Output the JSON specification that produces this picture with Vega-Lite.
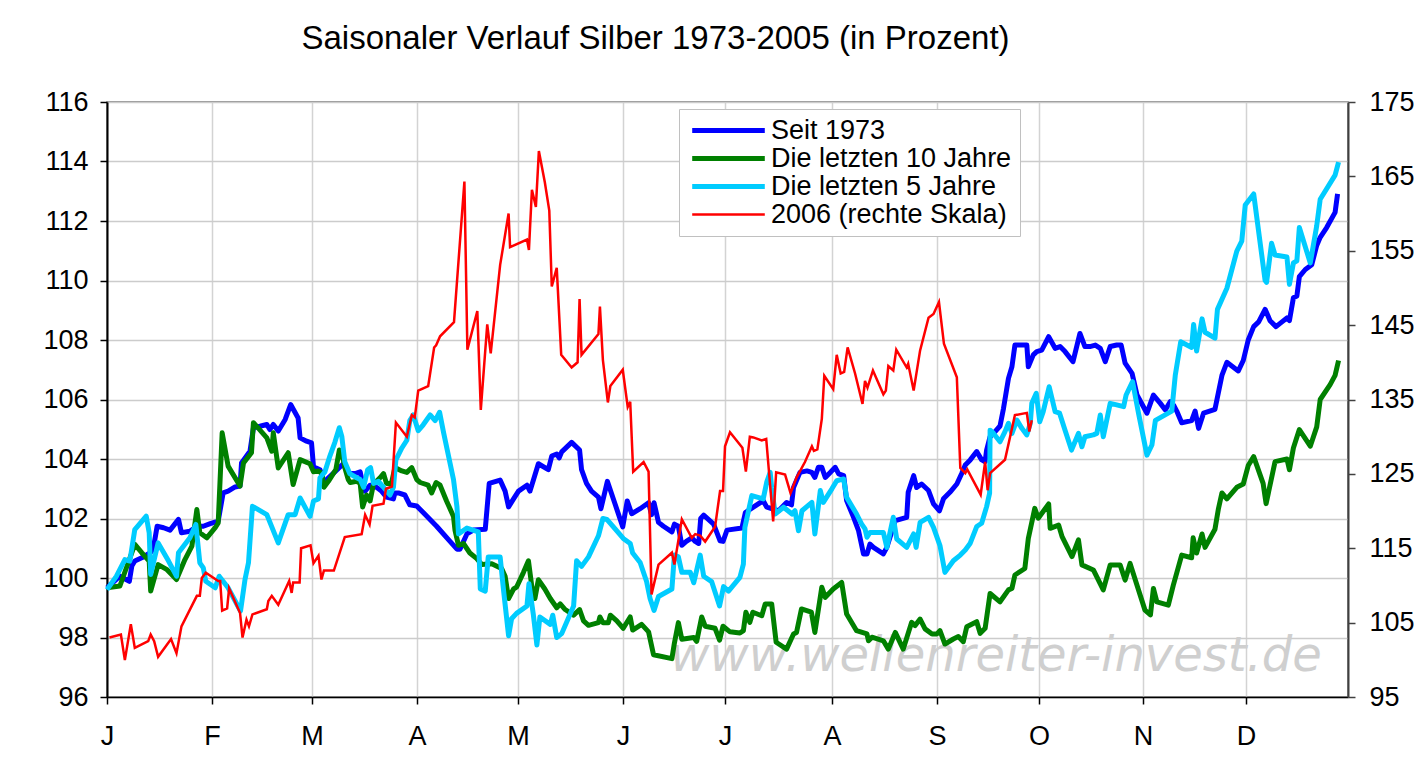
{
"$schema": "https://vega.github.io/schema/vega-lite/v6.json",
"width": 1241, "height": 595,
"autosize": {"type": "none"},
"padding": {"left": 107, "top": 102, "right": 71, "bottom": 65},
"background": "white",
"config": {"font": "Liberation Sans", "view": {"stroke": "#707070", "strokeWidth": 1.5}},
"title": {"text": "Saisonaler Verlauf Silber 1973-2005 (in Prozent)", "font": "Liberation Sans", "fontSize": 33, "fontWeight": "normal", "color": "black", "anchor": "middle", "frame": "group", "dx": -72, "baseline": "alphabetic", "offset": 6},
"datasets": {
"blue": [{"d":0,"v":99.67},{"d":2.6,"v":100.06},{"d":4.5,"v":99.89},{"d":5.0,"v":100.4},{"d":5.6,"v":100.57},{"d":7.0,"v":100.68},{"d":8.7,"v":100.85},{"d":9.3,"v":100.96},{"d":10.1,"v":101.74},{"d":11.4,"v":101.69},{"d":12.7,"v":101.61},{"d":14.4,"v":101.97},{"d":15.0,"v":101.52},{"d":16.7,"v":101.57},{"d":18.1,"v":101.74},{"d":19.4,"v":101.74},{"d":20.8,"v":101.83},{"d":22.4,"v":101.91},{"d":23.4,"v":102.86},{"d":24.4,"v":102.92},{"d":25.8,"v":103.06},{"d":26.8,"v":103.09},{"d":27.1,"v":103.87},{"d":28.8,"v":104.26},{"d":29.5,"v":105.05},{"d":30.8,"v":105.1},{"d":32.2,"v":105.16},{"d":32.8,"v":104.99},{"d":33.5,"v":105.16},{"d":34.5,"v":104.94},{"d":35.9,"v":105.33},{"d":37.0,"v":105.83},{"d":38.5,"v":105.38},{"d":38.9,"v":104.71},{"d":40.2,"v":104.6},{"d":41.2,"v":104.54},{"d":41.6,"v":103.74},{"d":42.9,"v":103.64},{"d":43.9,"v":103.18},{"d":44.6,"v":103.37},{"d":45.9,"v":103.57},{"d":47.6,"v":103.84},{"d":48.6,"v":103.51},{"d":50.0,"v":103.51},{"d":51.0,"v":103.57},{"d":51.5,"v":103.18},{"d":52.0,"v":102.92},{"d":53.0,"v":103.12},{"d":54.3,"v":103.05},{"d":55.3,"v":102.92},{"d":56.3,"v":102.72},{"d":57.7,"v":102.66},{"d":58.0,"v":102.86},{"d":58.7,"v":102.86},{"d":60.0,"v":102.79},{"d":61.0,"v":102.46},{"d":62.4,"v":102.42},{"d":63.7,"v":102.2},{"d":66.4,"v":101.74},{"d":69.1,"v":101.23},{"d":70.5,"v":100.97},{"d":71.1,"v":100.97},{"d":72.5,"v":101.48},{"d":73.8,"v":101.61},{"d":76.2,"v":101.64},{"d":77.0,"v":103.18},{"d":79.2,"v":103.29},{"d":80.2,"v":102.92},{"d":80.9,"v":102.39},{"d":81.9,"v":102.66},{"d":82.9,"v":102.92},{"d":84.6,"v":103.12},{"d":85.2,"v":102.92},{"d":85.9,"v":103.29},{"d":86.9,"v":103.84},{"d":88.9,"v":103.64},{"d":89.6,"v":104.1},{"d":90.6,"v":104.17},{"d":91.1,"v":104.04},{"d":91.6,"v":104.24},{"d":93.6,"v":104.56},{"d":95.2,"v":104.3},{"d":95.6,"v":103.64},{"d":96.6,"v":103.18},{"d":97.6,"v":102.92},{"d":99.0,"v":102.72},{"d":99.5,"v":102.33},{"d":100.8,"v":103.25},{"d":102.4,"v":102.46},{"d":103.9,"v":101.72},{"d":104.8,"v":102.59},{"d":105.7,"v":102.16},{"d":107.4,"v":102.33},{"d":109.1,"v":102.53},{"d":109.7,"v":102.13},{"d":110.2,"v":102.53},{"d":111.1,"v":101.87},{"d":112.1,"v":101.74},{"d":113.8,"v":101.55},{"d":114.3,"v":101.81},{"d":115.1,"v":101.74},{"d":115.8,"v":101.1},{"d":116.7,"v":101.23},{"d":117.8,"v":101.35},{"d":118.5,"v":101.23},{"d":119.2,"v":101.16},{"d":119.6,"v":102.0},{"d":120.2,"v":102.11},{"d":122.2,"v":101.81},{"d":123.5,"v":101.25},{"d":124.1,"v":101.23},{"d":124.9,"v":101.61},{"d":127.9,"v":101.68},{"d":128.6,"v":102.2},{"d":130.2,"v":102.38},{"d":132.2,"v":102.6},{"d":132.9,"v":102.38},{"d":134.2,"v":102.32},{"d":135.3,"v":102.26},{"d":136.9,"v":102.54},{"d":137.9,"v":102.46},{"d":138.3,"v":103.04},{"d":139.6,"v":103.55},{"d":141.0,"v":103.6},{"d":142.0,"v":103.55},{"d":142.6,"v":103.38},{"d":143.3,"v":103.72},{"d":144.0,"v":103.72},{"d":144.7,"v":103.38},{"d":145.7,"v":103.55},{"d":146.7,"v":103.72},{"d":147.4,"v":103.5},{"d":148.4,"v":103.44},{"d":149.0,"v":102.6},{"d":150.4,"v":102.04},{"d":151.4,"v":101.59},{"d":152.4,"v":100.81},{"d":153.1,"v":100.81},{"d":153.7,"v":101.14},{"d":154.4,"v":101.03},{"d":156.4,"v":100.81},{"d":157.1,"v":101.03},{"d":158.8,"v":101.93},{"d":161.1,"v":102.04},{"d":161.4,"v":102.88},{"d":162.5,"v":103.44},{"d":163.1,"v":103.04},{"d":164.1,"v":103.16},{"d":165.5,"v":102.94},{"d":166.5,"v":102.49},{"d":167.7,"v":102.26},{"d":168.5,"v":102.66},{"d":169.8,"v":102.88},{"d":171.2,"v":103.16},{"d":172.2,"v":103.52},{"d":172.9,"v":103.8},{"d":173.9,"v":103.97},{"d":175.2,"v":104.25},{"d":176.2,"v":103.97},{"d":176.9,"v":103.91},{"d":177.2,"v":104.3},{"d":177.9,"v":104.75},{"d":178.9,"v":104.92},{"d":179.9,"v":105.11},{"d":180.6,"v":105.7},{"d":181.6,"v":106.71},{"d":182.3,"v":107.1},{"d":182.9,"v":107.83},{"d":185.3,"v":107.83},{"d":185.6,"v":107.1},{"d":186.6,"v":107.5},{"d":187.3,"v":107.61},{"d":188.3,"v":107.66},{"d":189.7,"v":108.11},{"d":191.0,"v":107.72},{"d":192.0,"v":107.78},{"d":193.0,"v":107.61},{"d":194.6,"v":107.27},{"d":196.0,"v":108.22},{"d":197.0,"v":107.78},{"d":198.0,"v":107.78},{"d":199.1,"v":107.83},{"d":200.1,"v":107.72},{"d":201.1,"v":107.27},{"d":202.1,"v":107.78},{"d":203.4,"v":107.83},{"d":204.3,"v":107.83},{"d":205.1,"v":107.22},{"d":206.5,"v":106.88},{"d":207.5,"v":106.15},{"d":209.5,"v":105.54},{"d":210.8,"v":106.15},{"d":212.2,"v":105.87},{"d":213.2,"v":105.65},{"d":214.2,"v":105.93},{"d":214.9,"v":105.8},{"d":215.5,"v":105.61},{"d":216.5,"v":105.22},{"d":218.5,"v":105.29},{"d":219.2,"v":105.61},{"d":219.9,"v":105.03},{"d":220.9,"v":105.54},{"d":223.2,"v":105.67},{"d":224.6,"v":106.81},{"d":225.6,"v":107.25},{"d":227.9,"v":106.96},{"d":228.9,"v":107.31},{"d":229.9,"v":108.0},{"d":231.0,"v":108.45},{"d":232.0,"v":108.61},{"d":233.3,"v":109.03},{"d":234.3,"v":108.65},{"d":235.5,"v":108.45},{"d":236.7,"v":108.61},{"d":237.7,"v":108.74},{"d":238.2,"v":108.65},{"d":239.0,"v":109.42},{"d":239.7,"v":109.48},{"d":240.2,"v":110.13},{"d":241.4,"v":110.37},{"d":242.7,"v":110.53},{"d":243.7,"v":111.18},{"d":244.4,"v":111.45},{"d":245.7,"v":111.78},{"d":247.4,"v":112.29},{"d":247.9,"v":112.91}],
"green": [{"d":0,"v":99.67},{"d":2.6,"v":99.73},{"d":3.3,"v":100.06},{"d":5.6,"v":101.13},{"d":7.0,"v":100.85},{"d":8.5,"v":100.57},{"d":8.8,"v":99.56},{"d":10.3,"v":100.45},{"d":12.0,"v":100.29},{"d":14.0,"v":99.95},{"d":15.7,"v":100.62},{"d":17.1,"v":101.07},{"d":18.1,"v":102.3},{"d":18.7,"v":101.52},{"d":20.1,"v":101.35},{"d":21.8,"v":101.69},{"d":22.4,"v":101.85},{"d":23.2,"v":104.88},{"d":24.4,"v":103.76},{"d":26.8,"v":103.09},{"d":27.5,"v":103.87},{"d":29.1,"v":104.21},{"d":29.5,"v":105.22},{"d":32.2,"v":104.71},{"d":33.2,"v":104.26},{"d":33.5,"v":104.88},{"d":34.5,"v":103.7},{"d":36.5,"v":104.21},{"d":37.5,"v":103.14},{"d":38.9,"v":103.98},{"d":40.9,"v":103.84},{"d":41.6,"v":103.57},{"d":42.6,"v":103.6},{"d":43.3,"v":103.51},{"d":43.7,"v":103.05},{"d":44.6,"v":103.25},{"d":46.1,"v":103.64},{"d":46.8,"v":104.3},{"d":47.6,"v":103.97},{"d":47.9,"v":103.71},{"d":48.6,"v":103.31},{"d":49.0,"v":103.21},{"d":50.3,"v":103.25},{"d":51.0,"v":103.18},{"d":51.5,"v":102.39},{"d":52.3,"v":102.79},{"d":53.0,"v":102.59},{"d":53.7,"v":103.18},{"d":54.3,"v":103.25},{"d":55.0,"v":103.37},{"d":55.7,"v":103.51},{"d":56.3,"v":103.18},{"d":57.3,"v":103.18},{"d":58.0,"v":103.71},{"d":59.4,"v":103.6},{"d":60.4,"v":103.55},{"d":61.4,"v":103.71},{"d":62.4,"v":103.31},{"d":63.1,"v":103.21},{"d":64.7,"v":103.12},{"d":65.4,"v":102.86},{"d":66.3,"v":103.21},{"d":67.1,"v":103.12},{"d":68.4,"v":102.59},{"d":69.8,"v":102.07},{"d":70.1,"v":101.61},{"d":70.8,"v":101.1},{"d":71.8,"v":101.16},{"d":73.1,"v":100.84},{"d":74.5,"v":100.65},{"d":75.5,"v":100.45},{"d":77.5,"v":100.48},{"d":79.5,"v":100.32},{"d":80.2,"v":100.06},{"d":80.9,"v":99.31},{"d":81.9,"v":99.63},{"d":82.5,"v":99.69},{"d":83.9,"v":100.19},{"d":84.9,"v":100.58},{"d":85.6,"v":99.69},{"d":86.2,"v":99.31},{"d":86.9,"v":99.94},{"d":88.2,"v":99.63},{"d":89.3,"v":99.31},{"d":90.6,"v":99.0},{"d":91.3,"v":99.13},{"d":92.3,"v":98.94},{"d":94.0,"v":98.75},{"d":95.2,"v":98.94},{"d":96.0,"v":98.56},{"d":97.0,"v":98.41},{"d":99.0,"v":98.5},{"d":99.3,"v":98.69},{"d":99.9,"v":98.5},{"d":101.0,"v":98.5},{"d":101.4,"v":98.75},{"d":102.7,"v":98.56},{"d":104.0,"v":98.31},{"d":105.4,"v":98.69},{"d":105.9,"v":98.25},{"d":107.7,"v":98.44},{"d":109.1,"v":98.19},{"d":110.1,"v":97.42},{"d":113.8,"v":97.29},{"d":114.3,"v":97.81},{"d":115.1,"v":98.5},{"d":115.8,"v":97.94},{"d":118.2,"v":98.0},{"d":118.8,"v":97.87},{"d":119.8,"v":98.69},{"d":120.5,"v":98.38},{"d":122.5,"v":98.31},{"d":123.4,"v":97.91},{"d":124.1,"v":98.38},{"d":125.5,"v":98.19},{"d":127.5,"v":98.15},{"d":128.2,"v":98.23},{"d":128.7,"v":98.85},{"d":129.5,"v":98.51},{"d":130.1,"v":98.85},{"d":131.9,"v":98.73},{"d":132.6,"v":99.13},{"d":133.9,"v":99.13},{"d":134.8,"v":97.84},{"d":136.9,"v":97.61},{"d":138.3,"v":98.12},{"d":138.9,"v":98.17},{"d":139.9,"v":98.96},{"d":141.9,"v":98.85},{"d":142.6,"v":98.17},{"d":144.0,"v":99.69},{"d":144.7,"v":99.35},{"d":146.3,"v":99.63},{"d":148.0,"v":99.85},{"d":149.0,"v":98.79},{"d":151.0,"v":98.23},{"d":153.1,"v":98.12},{"d":153.4,"v":97.89},{"d":154.1,"v":98.01},{"d":156.4,"v":97.89},{"d":157.4,"v":97.61},{"d":158.8,"v":98.17},{"d":160.4,"v":97.61},{"d":162.1,"v":98.51},{"d":162.8,"v":98.4},{"d":163.8,"v":98.62},{"d":164.8,"v":98.29},{"d":166.2,"v":98.12},{"d":167.2,"v":98.12},{"d":167.8,"v":98.23},{"d":168.8,"v":97.78},{"d":170.5,"v":97.95},{"d":171.5,"v":98.03},{"d":172.5,"v":97.86},{"d":173.2,"v":98.36},{"d":175.2,"v":98.53},{"d":175.9,"v":98.14},{"d":176.9,"v":98.31},{"d":177.9,"v":99.48},{"d":179.9,"v":99.2},{"d":181.6,"v":99.6},{"d":182.3,"v":99.65},{"d":182.9,"v":100.1},{"d":184.9,"v":100.32},{"d":185.6,"v":101.33},{"d":186.9,"v":102.34},{"d":187.6,"v":102.01},{"d":189.7,"v":102.49},{"d":190.0,"v":101.67},{"d":191.7,"v":101.78},{"d":192.4,"v":101.39},{"d":194.4,"v":100.72},{"d":195.7,"v":101.28},{"d":196.4,"v":100.44},{"d":198.7,"v":100.27},{"d":200.7,"v":99.6},{"d":202.1,"v":100.44},{"d":204.1,"v":100.44},{"d":205.1,"v":99.93},{"d":206.1,"v":100.49},{"d":207.8,"v":99.6},{"d":209.1,"v":98.92},{"d":210.2,"v":98.76},{"d":210.8,"v":99.65},{"d":211.5,"v":99.2},{"d":213.8,"v":99.09},{"d":214.8,"v":99.75},{"d":216.5,"v":100.77},{"d":218.5,"v":100.68},{"d":218.8,"v":101.35},{"d":219.5,"v":100.84},{"d":220.6,"v":101.48},{"d":221.2,"v":101.03},{"d":223.2,"v":101.64},{"d":223.9,"v":102.33},{"d":224.6,"v":102.86},{"d":225.6,"v":102.66},{"d":227.6,"v":103.05},{"d":228.9,"v":103.16},{"d":229.9,"v":103.78},{"d":231.0,"v":104.08},{"d":232.9,"v":103.18},{"d":233.5,"v":102.5},{"d":235.3,"v":103.91},{"d":237.7,"v":104.0},{"d":238.2,"v":103.64},{"d":239.0,"v":104.37},{"d":240.2,"v":104.99},{"d":242.4,"v":104.43},{"d":243.7,"v":105.08},{"d":244.4,"v":106.0},{"d":246.4,"v":106.5},{"d":247.4,"v":106.81},{"d":248.1,"v":107.31}],
"cyan": [{"d":0,"v":99.61},{"d":1.9,"v":100.06},{"d":3.6,"v":100.62},{"d":4.6,"v":100.57},{"d":5.6,"v":101.63},{"d":7.9,"v":102.08},{"d":8.5,"v":101.52},{"d":8.8,"v":100.12},{"d":10.3,"v":101.18},{"d":12.4,"v":100.57},{"d":14.0,"v":100.06},{"d":14.4,"v":100.85},{"d":16.7,"v":101.35},{"d":17.9,"v":101.8},{"d":18.7,"v":100.51},{"d":19.4,"v":100.34},{"d":19.9,"v":99.89},{"d":21.8,"v":99.67},{"d":22.6,"v":100.06},{"d":24.4,"v":99.67},{"d":26.9,"v":98.89},{"d":27.8,"v":99.95},{"d":28.5,"v":100.51},{"d":29.3,"v":102.41},{"d":32.2,"v":102.13},{"d":34.5,"v":101.18},{"d":36.5,"v":102.13},{"d":37.9,"v":102.13},{"d":38.9,"v":102.69},{"d":40.9,"v":102.07},{"d":41.6,"v":102.59},{"d":42.6,"v":102.66},{"d":42.9,"v":103.37},{"d":43.9,"v":103.57},{"d":44.9,"v":104.1},{"d":45.9,"v":104.56},{"d":46.8,"v":105.05},{"d":47.3,"v":104.76},{"d":47.9,"v":103.91},{"d":48.9,"v":103.51},{"d":50.3,"v":103.37},{"d":51.0,"v":103.31},{"d":51.7,"v":103.05},{"d":52.5,"v":103.64},{"d":53.1,"v":103.71},{"d":53.7,"v":103.18},{"d":54.7,"v":103.25},{"d":55.7,"v":103.05},{"d":57.0,"v":102.79},{"d":57.7,"v":103.05},{"d":58.2,"v":103.97},{"d":59.4,"v":104.37},{"d":60.4,"v":104.63},{"d":61.0,"v":105.29},{"d":61.7,"v":105.48},{"d":62.7,"v":104.95},{"d":63.7,"v":105.15},{"d":65.1,"v":105.48},{"d":66.1,"v":105.29},{"d":67.0,"v":105.57},{"d":67.8,"v":104.89},{"d":68.8,"v":104.1},{"d":69.8,"v":103.31},{"d":70.5,"v":102.39},{"d":70.8,"v":101.48},{"d":72.5,"v":101.68},{"d":74.8,"v":101.55},{"d":75.2,"v":99.63},{"d":76.2,"v":99.56},{"d":76.8,"v":100.71},{"d":79.2,"v":100.71},{"d":79.9,"v":99.56},{"d":80.9,"v":98.06},{"d":81.5,"v":98.63},{"d":82.5,"v":98.81},{"d":84.6,"v":99.06},{"d":85.0,"v":99.81},{"d":85.9,"v":98.75},{"d":86.6,"v":97.75},{"d":87.2,"v":98.69},{"d":89.3,"v":98.44},{"d":89.8,"v":98.75},{"d":90.6,"v":98.0},{"d":91.6,"v":98.13},{"d":94.0,"v":99.06},{"d":94.6,"v":100.58},{"d":95.6,"v":100.39},{"d":97.0,"v":100.71},{"d":99.0,"v":101.42},{"d":99.9,"v":102.0},{"d":100.7,"v":101.97},{"d":102.4,"v":101.64},{"d":104.0,"v":101.33},{"d":105.4,"v":101.16},{"d":105.9,"v":100.84},{"d":107.4,"v":100.52},{"d":108.7,"v":99.88},{"d":109.4,"v":99.31},{"d":110.2,"v":98.91},{"d":111.1,"v":99.38},{"d":113.8,"v":99.63},{"d":114.3,"v":100.77},{"d":115.1,"v":100.71},{"d":115.8,"v":100.19},{"d":117.5,"v":100.19},{"d":118.2,"v":99.84},{"d":119.5,"v":100.77},{"d":120.2,"v":100.06},{"d":121.8,"v":99.88},{"d":123.4,"v":99.06},{"d":124.2,"v":99.71},{"d":125.2,"v":99.56},{"d":127.5,"v":100.02},{"d":128.2,"v":100.47},{"d":128.5,"v":101.7},{"d":129.9,"v":102.77},{"d":132.2,"v":102.66},{"d":132.9,"v":103.22},{"d":133.6,"v":103.55},{"d":133.9,"v":103.05},{"d":134.6,"v":102.15},{"d":136.3,"v":102.38},{"d":138.0,"v":102.15},{"d":138.6,"v":102.26},{"d":139.3,"v":101.59},{"d":140.0,"v":102.26},{"d":142.0,"v":102.54},{"d":142.6,"v":101.48},{"d":143.7,"v":102.94},{"d":144.3,"v":102.54},{"d":146.0,"v":102.99},{"d":147.0,"v":103.27},{"d":148.4,"v":103.33},{"d":149.0,"v":102.71},{"d":151.0,"v":102.15},{"d":152.0,"v":101.82},{"d":152.7,"v":101.65},{"d":153.1,"v":101.37},{"d":153.7,"v":101.53},{"d":156.4,"v":101.53},{"d":157.1,"v":101.03},{"d":158.4,"v":102.04},{"d":159.1,"v":101.31},{"d":161.1,"v":101.03},{"d":162.5,"v":101.48},{"d":163.0,"v":101.03},{"d":163.8,"v":101.87},{"d":165.5,"v":102.04},{"d":166.5,"v":101.7},{"d":167.8,"v":101.09},{"d":168.8,"v":100.19},{"d":170.5,"v":100.58},{"d":171.9,"v":100.77},{"d":172.9,"v":100.94},{"d":173.9,"v":101.17},{"d":175.2,"v":101.73},{"d":176.2,"v":101.84},{"d":177.2,"v":102.4},{"d":177.8,"v":102.85},{"d":177.9,"v":104.97},{"d":178.6,"v":104.86},{"d":179.9,"v":104.58},{"d":180.9,"v":104.92},{"d":181.6,"v":105.2},{"d":182.3,"v":104.86},{"d":183.3,"v":105.31},{"d":184.3,"v":105.03},{"d":185.3,"v":104.81},{"d":186.0,"v":105.2},{"d":186.3,"v":105.87},{"d":187.2,"v":106.21},{"d":187.9,"v":105.25},{"d":188.6,"v":105.59},{"d":189.8,"v":106.43},{"d":191.0,"v":105.59},{"d":191.9,"v":105.54},{"d":193.0,"v":104.97},{"d":194.3,"v":104.3},{"d":195.7,"v":104.86},{"d":196.4,"v":104.41},{"d":197.0,"v":104.75},{"d":198.7,"v":104.81},{"d":199.4,"v":104.86},{"d":200.1,"v":105.48},{"d":200.7,"v":104.75},{"d":202.1,"v":105.87},{"d":203.4,"v":105.82},{"d":204.8,"v":105.76},{"d":205.3,"v":106.15},{"d":206.6,"v":106.6},{"d":207.8,"v":105.54},{"d":209.5,"v":104.13},{"d":210.5,"v":104.47},{"d":211.2,"v":105.3},{"d":214.5,"v":105.61},{"d":215.2,"v":106.81},{"d":216.3,"v":107.94},{"d":218.5,"v":107.75},{"d":218.9,"v":108.52},{"d":219.5,"v":107.63},{"d":220.6,"v":108.71},{"d":221.2,"v":108.26},{"d":223.2,"v":108.06},{"d":223.7,"v":109.03},{"d":225.6,"v":109.74},{"d":227.6,"v":110.99},{"d":228.6,"v":111.32},{"d":229.3,"v":112.54},{"d":231.0,"v":112.91},{"d":233.3,"v":110.0},{"d":233.6,"v":109.94},{"d":234.6,"v":111.25},{"d":235.3,"v":110.86},{"d":237.7,"v":110.79},{"d":238.2,"v":109.87},{"d":239.0,"v":110.59},{"d":239.7,"v":110.66},{"d":240.2,"v":111.78},{"d":242.4,"v":110.59},{"d":243.7,"v":111.84},{"d":244.4,"v":112.73},{"d":247.4,"v":113.54},{"d":248.1,"v":113.98}],
"red": [{"d":0.5,"v":103.0},{"d":2.8,"v":103.4},{"d":3.6,"v":99.96},{"d":4.8,"v":104.8},{"d":5.6,"v":101.6},{"d":8.3,"v":102.5},{"d":8.8,"v":103.4},{"d":9.5,"v":102.5},{"d":10.3,"v":100.4},{"d":12.9,"v":102.8},{"d":14.0,"v":100.9},{"d":15.0,"v":104.5},{"d":18.1,"v":108.6},{"d":18.7,"v":108.6},{"d":19.1,"v":111.0},{"d":19.9,"v":111.7},{"d":22.4,"v":110.6},{"d":22.8,"v":110.6},{"d":23.2,"v":106.6},{"d":24.2,"v":106.9},{"d":24.6,"v":109.6},{"d":26.8,"v":106.3},{"d":27.3,"v":103.0},{"d":28.1,"v":105.4},{"d":28.6,"v":104.5},{"d":29.3,"v":106.1},{"d":32.2,"v":106.8},{"d":32.5,"v":107.9},{"d":33.2,"v":108.6},{"d":34.5,"v":107.4},{"d":36.7,"v":110.6},{"d":37.2,"v":109.0},{"d":37.5,"v":110.4},{"d":38.8,"v":110.4},{"d":39.1,"v":115.0},{"d":41.0,"v":115.4},{"d":41.6,"v":113.0},{"d":42.6,"v":114.0},{"d":43.2,"v":110.8},{"d":43.7,"v":112.0},{"d":45.7,"v":112.0},{"d":47.9,"v":116.5},{"d":51.3,"v":116.9},{"d":52.0,"v":119.5},{"d":52.9,"v":118.2},{"d":53.5,"v":120.7},{"d":55.7,"v":121.0},{"d":56.2,"v":123.0},{"d":57.4,"v":123.3},{"d":58.2,"v":131.9},{"d":60.4,"v":130.0},{"d":61.4,"v":132.9},{"d":62.0,"v":132.6},{"d":62.7,"v":136.2},{"d":64.7,"v":136.8},{"d":65.9,"v":142.0},{"d":66.3,"v":142.3},{"d":67.1,"v":143.5},{"d":69.9,"v":145.4},{"d":72.0,"v":164.3},{"d":72.6,"v":141.7},{"d":74.6,"v":146.9},{"d":75.3,"v":133.6},{"d":76.6,"v":145.1},{"d":77.3,"v":141.2},{"d":79.2,"v":153.1},{"d":80.9,"v":160.0},{"d":81.2,"v":155.5},{"d":84.6,"v":156.5},{"d":85.0,"v":155.1},{"d":85.6,"v":163.2},{"d":86.4,"v":160.9},{"d":87.0,"v":168.4},{"d":88.2,"v":164.2},{"d":89.1,"v":160.4},{"d":89.6,"v":150.2},{"d":90.6,"v":152.7},{"d":91.5,"v":141.0},{"d":93.6,"v":139.3},{"d":94.8,"v":140.0},{"d":95.2,"v":148.5},{"d":95.6,"v":141.0},{"d":99.0,"v":143.8},{"d":99.3,"v":147.5},{"d":99.9,"v":140.3},{"d":100.9,"v":134.6},{"d":101.4,"v":136.8},{"d":103.9,"v":139.0},{"d":104.9,"v":134.0},{"d":105.4,"v":134.7},{"d":106.0,"v":125.3},{"d":108.1,"v":126.6},{"d":109.1,"v":125.3},{"d":109.7,"v":108.8},{"d":111.1,"v":112.8},{"d":113.8,"v":114.4},{"d":114.3,"v":112.8},{"d":115.8,"v":118.9},{"d":117.8,"v":116.4},{"d":118.5,"v":116.9},{"d":119.5,"v":116.7},{"d":120.5,"v":115.9},{"d":122.5,"v":117.9},{"d":123.5,"v":122.7},{"d":124.1,"v":122.7},{"d":124.5,"v":128.7},{"d":125.5,"v":130.6},{"d":128.0,"v":128.5},{"d":128.7,"v":125.3},{"d":129.5,"v":130.0},{"d":130.2,"v":129.9},{"d":131.9,"v":129.5},{"d":132.8,"v":129.7},{"d":134.2,"v":118.6},{"d":134.8,"v":125.2},{"d":136.6,"v":124.9},{"d":137.7,"v":122.4},{"d":138.9,"v":124.5},{"d":140.6,"v":126.6},{"d":142.0,"v":128.7},{"d":142.4,"v":128.1},{"d":143.1,"v":128.3},{"d":144.0,"v":132.4},{"d":144.5,"v":138.2},{"d":146.3,"v":136.4},{"d":147.0,"v":141.0},{"d":147.8,"v":138.5},{"d":148.5,"v":138.7},{"d":149.2,"v":142.0},{"d":150.7,"v":138.5},{"d":152.2,"v":134.4},{"d":152.7,"v":137.5},{"d":153.2,"v":136.6},{"d":154.3,"v":138.9},{"d":156.4,"v":135.7},{"d":156.9,"v":136.2},{"d":157.4,"v":139.5},{"d":158.4,"v":138.9},{"d":159.0,"v":141.7},{"d":161.1,"v":139.3},{"d":161.4,"v":139.8},{"d":162.5,"v":136.2},{"d":163.8,"v":141.6},{"d":165.5,"v":146.0},{"d":166.5,"v":146.5},{"d":167.6,"v":148.1},{"d":168.6,"v":142.5},{"d":171.2,"v":138.0},{"d":171.9,"v":125.8},{"d":172.9,"v":125.1},{"d":173.3,"v":125.6},{"d":176.0,"v":122.2},{"d":176.9,"v":126.6},{"d":177.4,"v":122.8},{"d":177.9,"v":125.1},{"d":180.9,"v":126.9},{"d":182.9,"v":132.9},{"d":185.3,"v":133.2},{"d":185.8,"v":130.7},{"d":186.3,"v":132.2}]
},
"layer": [
 {
  "layer": [
   {
    "data": {"values": [{"t": "www.wellenreiter-invest.de"}]},
    "mark": {"type": "text", "font": "DejaVu Sans", "fontSize": 48, "fontStyle": "italic", "color": "#cfcfcf", "align": "center", "baseline": "middle"},
    "encoding": {
     "text": {"field": "t"},
     "x": {"datum": 179.1, "type": "quantitative"},
     "y": {"datum": 97.35, "type": "quantitative"}
    }
   },
   {
    "data": {"name": "blue"},
    "mark": {"type": "line", "strokeWidth": 5, "strokeJoin": "round"},
    "encoding": {
     "x": {"field": "d", "type": "quantitative", "title": null, "scale": {"domain": [0, 250], "nice": false, "zero": false},
       "axis": {"values": [0, 21.15, 41.3, 62.45, 82.8, 103.95, 124.5, 146.05, 167.2, 187.75, 208.7, 229.45],
         "labelExpr": "datum.value<10?'J':datum.value<31?'F':datum.value<52?'M':datum.value<72?'A':datum.value<93?'M':datum.value<114?'J':datum.value<135?'J':datum.value<156?'A':datum.value<177?'S':datum.value<198?'O':datum.value<219?'N':'D'",
         "grid": true, "gridColor": "#d3d3d3", "gridWidth": 1.5,
         "domainColor": "black", "domainWidth": 1.5, "tickColor": "black", "tickWidth": 1.5, "tickSize": 7,
         "labelFont": "Liberation Sans", "labelFontSize": 27, "labelColor": "black", "labelPadding": 19, "labelFlush": false, "labelOverlap": false}},
     "y": {"field": "v", "type": "quantitative", "title": null, "scale": {"domain": [96, 116], "nice": false, "zero": false},
       "axis": {"values": [96, 98, 100, 102, 104, 106, 108, 110, 112, 114, 116], "grid": true, "gridColor": "#cccccc", "gridWidth": 1.5,
         "domainColor": "black", "domainWidth": 2, "tickColor": "black", "tickWidth": 1.5, "tickSize": 7,
         "labelFont": "Liberation Sans", "labelFontSize": 27, "labelColor": "black", "labelPadding": 12, "labelFlush": false, "labelOverlap": false}},
     "color": {"datum": "Seit 1973", "type": "nominal",
       "scale": {"domain": ["Seit 1973", "Die letzten 10 Jahre", "Die letzten 5 Jahre", "2006 (rechte Skala)"], "range": ["#0000ff", "#008000", "#00ccff", "#ff0000"]},
       "legend": {"orient": "none", "legendX": 572, "legendY": 7, "title": null, "labelFont": "Liberation Sans", "labelFontSize": 27, "labelColor": "black", "labelLimit": 0,
         "symbolType": "M-3.3,0H3.3", "symbolSize": 484, "symbolStrokeWidth": 5, "symbolOffset": 28, "labelOffset": 29, "padding": 8, "rowPadding": 0,
         "strokeColor": "#c0c0c0", "fillColor": "white",
         "encode": {"symbols": {"update": {"strokeWidth": {"signal": "datum.value == '2006 (rechte Skala)' ? 2.5 : 5"}}}}}}
    }
   },
   {
    "data": {"name": "green"},
    "mark": {"type": "line", "strokeWidth": 5, "strokeJoin": "round"},
    "encoding": {
     "x": {"field": "d", "type": "quantitative", "title": null},
     "y": {"field": "v", "type": "quantitative", "title": null},
     "color": {"datum": "Die letzten 10 Jahre", "type": "nominal"}
    }
   },
   {
    "data": {"name": "cyan"},
    "mark": {"type": "line", "strokeWidth": 5, "strokeJoin": "round"},
    "encoding": {
     "x": {"field": "d", "type": "quantitative", "title": null},
     "y": {"field": "v", "type": "quantitative", "title": null},
     "color": {"datum": "Die letzten 5 Jahre", "type": "nominal"}
    }
   }
  ]
 },
 {
  "data": {"name": "red"},
  "mark": {"type": "line", "strokeWidth": 2.5},
  "encoding": {
   "x": {"field": "d", "type": "quantitative", "title": null},
   "y": {"field": "v", "type": "quantitative", "title": null, "scale": {"domain": [95, 175], "nice": false, "zero": false},
     "axis": {"orient": "right", "values": [95, 105, 115, 125, 135, 145, 155, 165, 175], "grid": false,
       "domainColor": "#404040", "domainWidth": 2, "tickColor": "#404040", "tickWidth": 1.5, "tickSize": 7,
       "labelFont": "Liberation Sans", "labelFontSize": 27, "labelColor": "black", "labelPadding": 14, "labelFlush": false, "labelOverlap": false}},
   "color": {"datum": "2006 (rechte Skala)", "type": "nominal"}
  }
 }
],
"resolve": {"scale": {"y": "independent"}}
}
